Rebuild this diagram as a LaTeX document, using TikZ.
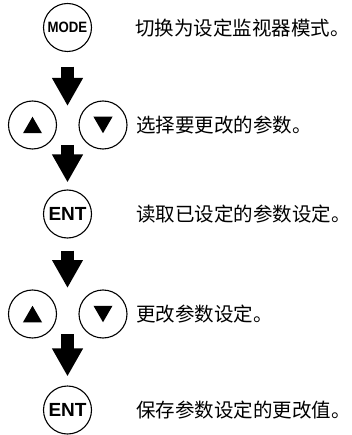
\documentclass[tikz,border=0pt]{standalone}
\usepackage{fontspec}
\setsansfont{Liberation Sans}
\newfontfamily\cjk{Noto Sans CJK SC}
\usetikzlibrary{positioning,shapes.geometric,arrows.meta}

\tikzset{
  keybtn/.style={draw, circle, line width=1.1pt, minimum size=48pt, inner sep=0pt, font=\sffamily\bfseries\fontsize{19}{19}\selectfont},
  keytri/.style={regular polygon, regular polygon sides=3, fill=black, minimum size=22pt, inner sep=0pt},
  steptext/.style={anchor=west, inner sep=0pt, font=\cjk\fontsize{19.5}{19.5}\selectfont},
  flowarrow/.style={line width=13pt, -{Triangle[width=29pt,length=28pt]}}
}

\begin{document}
\begin{tikzpicture}[x=1pt,y=-1pt]
                \useasboundingbox (0,0) rectangle (352,435);
                \node[keybtn, font=\sffamily\bfseries\fontsize{15}{15}\selectfont] (mode) at (67.5,27.5) {\scalebox{0.88}[1]{MODE}};
                \node[keybtn] (up1) at (32.5,125) {};
                \node[keybtn] (dn1) at (103,125) {};
                \node[keybtn] (ent1) at (67.5,214) {ENT};
                \node[keybtn] (up2) at (32.5,314) {};
                \node[keybtn] (dn2) at (103,314) {};
                \node[keybtn] (ent2) at (67.5,410) {ENT};
                \node[keytri, yshift=-2.75pt] (up1tri) at (up1) {};
                \node[keytri, shape border rotate=180, yshift=2.75pt] (dn1tri) at (dn1) {};
                \node[keytri, yshift=-2.75pt] (up2tri) at (up2) {};
                \node[keytri, shape border rotate=180, yshift=2.75pt] (dn2tri) at (dn2) {};
                \coordinate (gap1) at (67.5,125);
                \coordinate (gap2) at (67.5,314);
                \node[steptext] (t1) at (135,28.5) {切换为设定监视器模式。};
                \node[steptext] (t2) at (136,125) {选择要更改的参数。};
                \node[steptext] (t3) at (136,214) {读取已设定的参数设定。};
                \node[steptext] (t4) at (136,314) {更改参数设定。};
                \node[steptext] (t5) at (136,410) {保存参数设定的更改值。};
                \draw[flowarrow, shorten <=14.5pt, shorten >=19pt] (mode) -- (gap1);
                \draw[flowarrow, shorten <=20pt, shorten >=7pt] (gap1) -- (ent1);
                \draw[flowarrow, shorten <=12pt, shorten >=26pt] (ent1) -- (gap2);
                \draw[flowarrow, shorten <=20pt, shorten >=9pt] (gap2) -- (ent2);
            \end{tikzpicture}
\end{document}
